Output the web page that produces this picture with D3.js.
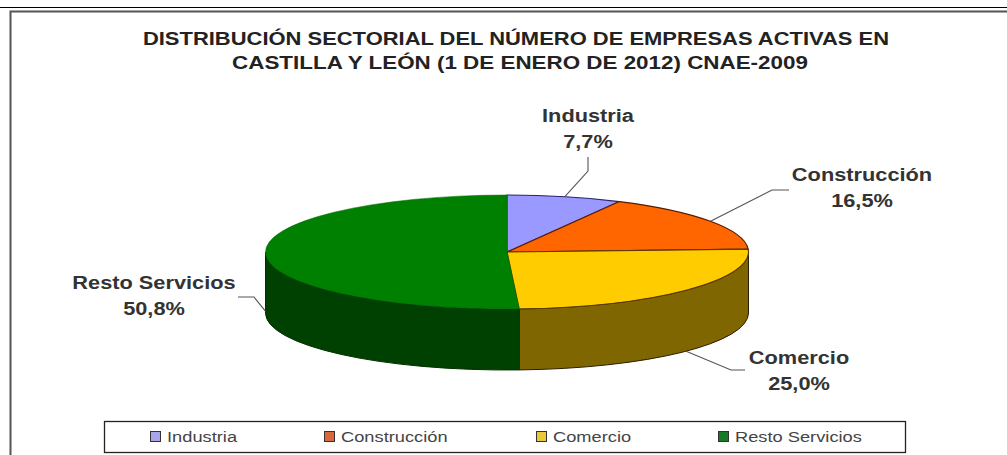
<!DOCTYPE html>
<html><head><meta charset="utf-8">
<style>html,body{margin:0;padding:0;background:#fff;overflow:hidden}svg{display:block}text{font-family:"Liberation Sans",Arial,sans-serif}</style>
<script src="https://cdn.jsdelivr.net/npm/d3@7/dist/d3.min.js"></script>
</head><body><svg id="c" width="1007" height="455"></svg>
<script>
const titleLines = ["DISTRIBUCIÓN SECTORIAL DEL NÚMERO DE EMPRESAS ACTIVAS EN","CASTILLA Y LEÓN (1 DE ENERO DE 2012) CNAE-2009"];
const categories = ["Industria","Construcción","Comercio","Resto Servicios"];
const values = [7.7,16.5,25.0,50.8];
const valueLabels = ["7,7%","16,5%","25,0%","50,8%"];
const topColors = ["#9999ff","#ff6600","#ffcc00","#008000"];
const sideColors = ["#4d4d80","#803300","#806600","#004000"];
const legendColors = ["#a9a5ea","#d9683a","#e9c93a","#177a24"];

const svg = d3.select("#c");
const cx=507, cy=252, rx=241.5, ry=57, depth=61;
const px = a => cx + rx*Math.sin(a);
const py = a => cy - ry*Math.cos(a);

svg.append("line").attr("x1",0).attr("x2",1007).attr("y1",7.5).attr("y2",7.5).attr("stroke","#000").attr("stroke-width",1.2);
svg.append("path").attr("d","M10.5 455V11.5H1007").attr("fill","none").attr("stroke","#555").attr("stroke-width",2);

// horizontally stretched text, as in the reference
function stretched(g,x,y,sx,t){
  return g.append("text").attr("transform",`translate(${x},${y}) scale(${sx},1)`).text(t);
}
const tt = svg.append("g").attr("font-size",18).attr("font-weight","bold").attr("fill","#222").attr("text-anchor","middle");
stretched(tt,516,44.5,1.22,titleLines[0]);
stretched(tt,520,68.5,1.245,titleLines[1]);

const arcs = d3.pie().sort(null).value(d=>d)(values);

const wall = g=>{
  const a0=Math.max(g.startAngle,Math.PI/2), a1=Math.min(g.endAngle,3*Math.PI/2);
  if(a1<=a0) return null;
  return `M${px(a0)} ${py(a0)}A${rx} ${ry} 0 0 1 ${px(a1)} ${py(a1)}V${py(a1)+depth}A${rx} ${ry} 0 0 0 ${px(a0)} ${py(a0)+depth}Z`;
};
arcs.forEach((g,i)=>{
  const d=wall(g); if(!d) return;
  svg.append("path").attr("d",d).attr("fill",sideColors[i]).attr("stroke",i==3?"#003000":"#2a1c00").attr("stroke-width",1);
});
const strokes=["#24246e","#5a1c00","#5a3c00","#006400"];
arcs.forEach((g,i)=>{
  const large=g.endAngle-g.startAngle>Math.PI?1:0;
  svg.append("path")
    .attr("d",`M${cx} ${cy}L${px(g.startAngle)} ${py(g.startAngle)}A${rx} ${ry} 0 ${large} 1 ${px(g.endAngle)} ${py(g.endAngle)}Z`)
    .attr("fill",topColors[i]).attr("stroke",strokes[i]).attr("stroke-width",i==3?0.5:1.2);
});

// leader lines start on the rim at each slice's mid-angle
const elbows=[[[588,171],[588,157]],[[772,190],[789,190]],[[731,370],[745,370]],[[254,297],[238,297]]];
arcs.forEach((g,i)=>{
  const a=(g.startAngle+g.endAngle)/2;
  const sx=px(a), sy=py(a)+(i>=2?depth-(i==3?3:0):0);
  svg.append("path").attr("d",d3.line()([[sx,sy],...elbows[i]])).attr("fill","none").attr("stroke","#555").attr("stroke-width",1.1);
});

const labelPos=[[588,122],[862,181],[799,364],[154,289]];
const lg=svg.append("g").attr("font-size",18).attr("font-weight","bold").attr("fill","#333").attr("text-anchor","middle");
categories.forEach((c,i)=>{
  stretched(lg,labelPos[i][0],labelPos[i][1],1.21,c);
  stretched(lg,labelPos[i][0],labelPos[i][1]+26,1.21,valueLabels[i]);
});

svg.append("rect").attr("x",104.5).attr("y",421.5).attr("width",801).attr("height",31).attr("fill","#fff").attr("stroke","#222").attr("stroke-width",1.3);
const legX=[150,324,536,718];
const lt=svg.append("g").attr("font-size",14.5).attr("fill","#444");
categories.forEach((c,i)=>{
  svg.append("rect").attr("x",legX[i]+0.5).attr("y",431.5).attr("width",10).attr("height",10).attr("fill",legendColors[i]).attr("stroke","#333").attr("stroke-width",1);
  stretched(lt,legX[i]+17,441.5,1.26,c);
});
</script></body></html>
